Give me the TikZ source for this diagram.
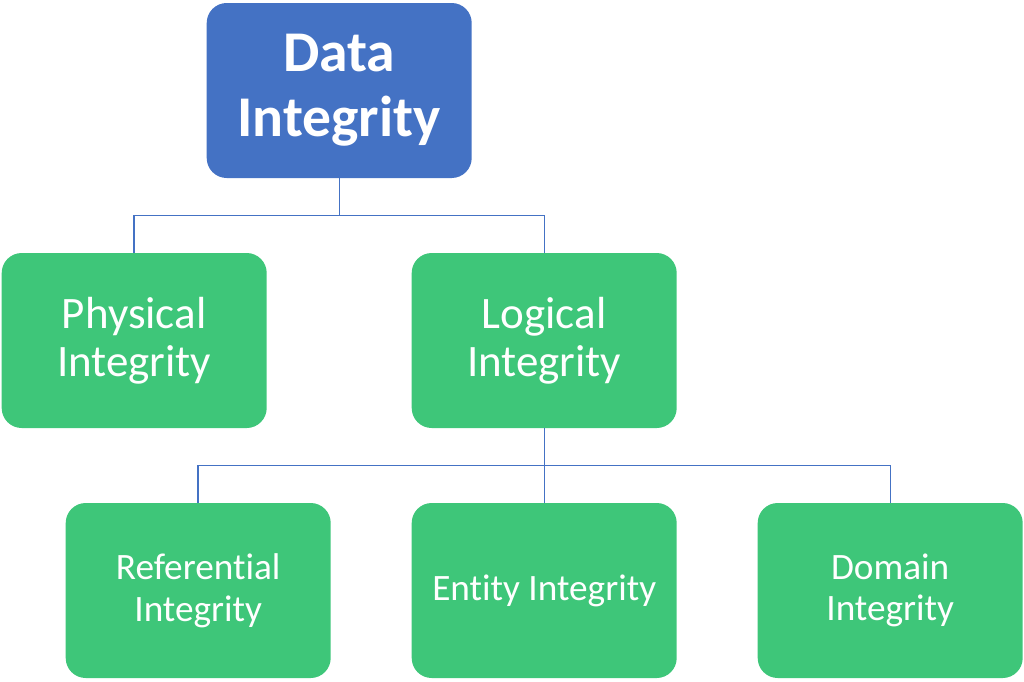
\documentclass[tikz,border=0pt]{standalone}
\usepackage{fontspec}
\setmainfont[Ligatures=NoCommon]{Carlito}
\usepackage{tikz}
\usetikzlibrary{trees}
\definecolor{rootblue}{HTML}{4472C4}
\definecolor{leafgreen}{HTML}{3EC679}

\begin{document}
\begin{tikzpicture}
[grow = down, level distance = 6.25cm,
  every node/.style = {rounded corners=0.5cm, minimum width=6.625cm,
    minimum height=4.375cm, inner sep=0pt, align=center, text=white},
  every child node/.style = {fill=leafgreen},
  edge from parent/.style = {draw=rootblue, line width=1pt},
  edge from parent path = {(\tikzparentnode.south) -- ++(0,-0.9375cm)
    -| (\tikzchildnode.north)}, % fork half way between rows
  level 1/.style = {sibling distance=10.25cm,
    nodes={font=\fontsize{32}{34}\selectfont}},
  level 2/.style = {sibling distance=8.65cm,
    nodes={font=\fontsize{26.5}{29.6}\selectfont}}]
  \useasboundingbox (0,0) rectangle (25.6,-17.025);
  \node (data) at (8.48,-2.2625) [fill=rootblue,
    font=\fontsize{41}{46}\selectfont\bfseries] {Data\\Integrity}
    child { node (physical) {Physical\\Integrity}}
    child { node (logical) {Logical\\Integrity}
      child { node (referential) {Referential\\Integrity}}
      child { node (entity) {Entity Integrity}}
      child { node (domain) {Domain\\Integrity}}
    };
\end{tikzpicture}
\end{document}
